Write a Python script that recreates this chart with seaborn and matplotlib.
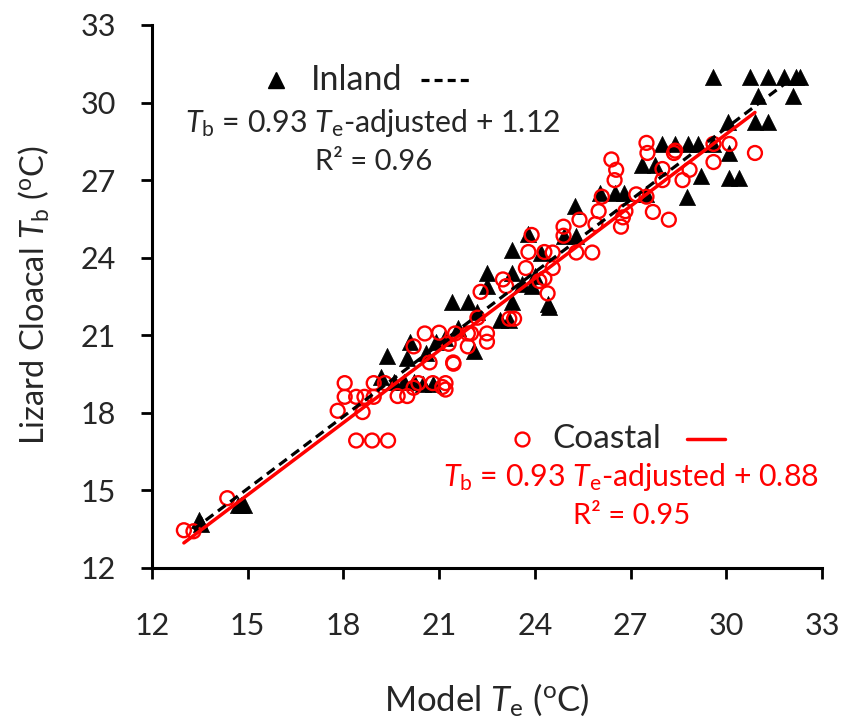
import numpy as np
import pandas as pd
import matplotlib
matplotlib.use('Agg')
import matplotlib.pyplot as plt
import seaborn as sns

# Точки: Inland (треугольники)
inland_te = [13.48, 13.55, 14.7, 14.8, 14.87, 19.37, 19.17, 19.6, 19.9, 20.2, 20.5, 20.8, 20.09, 20.0,
             20.6, 20.9, 21.2, 21.4, 21.9, 22.1, 22.5, 22.5, 22.9, 23.2, 23.27, 23.27, 23.3,
             23.8, 23.9, 24.2, 24.4, 24.45, 24.9, 25.27, 25.3, 26.05, 26.5, 26.8, 27.35, 27.5,
             27.77, 28.0, 28.4, 28.8, 29.1, 29.6, 28.78, 29.2, 29.6, 30.04, 30.1, 30.1, 30.4,
             30.75, 31.3, 31.8, 32.3, 31.0, 32.1, 32.2, 30.9, 31.3, 21.6, 22.2, 23.6, 24.0]
inland_tb = [13.85, 13.7, 14.44, 14.44, 14.44, 20.19, 19.37, 19.2, 19.2, 19.2, 19.1, 19.1, 20.75, 20.13,
             20.3, 20.75, 20.9, 22.27, 22.27, 20.4, 23.4, 22.9, 21.6, 21.6, 24.3, 23.4, 22.3,
             24.9, 22.9, 24.2, 22.2, 22.1, 24.85, 26.0, 24.85, 26.5, 26.5, 26.5, 27.6, 26.45,
             27.6, 28.4, 28.4, 28.4, 28.4, 28.4, 26.36, 27.16, 31.0, 29.26, 28.05, 27.07, 27.07,
             31.0, 31.0, 31.0, 31.0, 30.27, 30.27, 31.0, 29.26, 29.26, 21.3, 21.9, 23.0, 23.3]

# Точки: Coastal (кружки)
coastal_te = [13.0, 13.3, 14.36, 17.82, 18.04, 18.04, 18.4, 18.66, 18.6, 18.4, 18.9, 19.4,
              18.95, 18.95, 19.3, 19.7, 20.0, 20.2, 20.35, 20.8, 21.1, 21.2, 21.2, 20.2, 20.55,
              20.7, 21.0, 21.44, 21.3, 21.5, 21.9, 21.9, 22.0, 22.2, 22.5, 22.5, 22.3, 23.0,
              23.2, 23.35, 23.72, 23.8, 23.9, 24.14, 24.3, 24.4, 24.56, 24.56, 24.9, 24.9,
              25.3, 25.4, 25.8, 25.9, 26.0, 26.1, 26.4, 26.55, 26.5, 26.7, 26.76, 26.84,
              27.18, 27.5, 27.7, 27.5, 27.53, 28.0, 28.0, 28.2, 28.36, 28.4, 28.63, 28.85,
              29.6, 29.6, 30.1, 30.9, 21.45, 23.1, 24.3]
coastal_tb = [13.46, 13.42, 14.7, 18.08, 19.15, 18.62, 18.62, 18.62, 18.03, 16.93, 16.93, 16.93,
              19.15, 18.62, 19.15, 18.65, 18.65, 18.97, 19.15, 19.15, 19.0, 18.9, 19.15, 20.57, 21.07,
              19.95, 21.1, 19.95, 20.67, 21.07, 21.07, 20.57, 21.07, 21.68, 21.07, 20.75, 22.68, 23.16,
              21.64, 21.64, 23.6, 24.22, 24.88, 23.1, 24.22, 22.62, 23.6, 24.2, 25.2, 24.85,
              24.2, 25.47, 24.2, 25.3, 25.8, 26.36, 27.8, 27.4, 27.0, 25.2, 25.56, 25.8,
              26.45, 26.36, 25.77, 28.44, 28.05, 27.43, 27.0, 25.47, 28.05, 28.14, 27.0, 27.4,
              28.4, 27.7, 28.4, 28.05, 19.9, 22.9, 23.2]

# Линии регрессии
inland_slope, inland_icpt, inland_range = 0.93, 1.12, [13.3, 32.0]
coastal_slope, coastal_icpt, coastal_range = 0.93, 0.88, [13.0, 30.9]

inland = pd.DataFrame({'Te': inland_te, 'Tb': inland_tb})
coastal = pd.DataFrame({'Te': coastal_te, 'Tb': coastal_tb})

sns.set_style('ticks')
plt.rcParams['font.family'] = ['Lato', 'DejaVu Sans']
plt.rcParams['mathtext.fontset'] = 'custom'
plt.rcParams['mathtext.rm'] = 'Lato'
plt.rcParams['mathtext.it'] = 'Lato:italic'

fig = plt.figure(figsize=(8.42, 7.22), dpi=100)
ax = fig.add_axes([0.1805, 0.2133, 0.7957, 0.7521])

sns.scatterplot(data=inland, x='Te', y='Tb', marker='^', s=135, color='black',
                edgecolor='black', linewidth=0.5, ax=ax, zorder=2)
sns.scatterplot(data=coastal, x='Te', y='Tb', marker='o', s=100, facecolor='none',
                edgecolor='#ff0000', linewidth=1.7, ax=ax, zorder=3)

xi = np.array(inland_range)
xc = np.array(coastal_range)
ax.plot(xi, inland_slope * xi + inland_icpt, color='black', lw=2.3,
        linestyle=(0, (3, 1.8)), zorder=4)
ax.plot(xc, coastal_slope * xc + coastal_icpt, color='#ff0000', lw=2.5, zorder=5)

ax.set_xlim(12, 33)
ax.set_ylim(12, 33)
ax.set_xticks(range(12, 34, 3))
ax.set_yticks(range(12, 34, 3))
ax.tick_params(axis='x', length=8, width=2, labelsize=22, pad=24, color='black')
ax.tick_params(axis='y', length=8, width=2, labelsize=22, pad=18, color='black')
for sp in ['left', 'bottom']:
    ax.spines[sp].set_linewidth(2.2)
    ax.spines[sp].set_color('black')
sns.despine(ax=ax)

ax.set_xlabel(r'Model $\mathit{T}_\mathregular{e}$ ($^\mathregular{o}$C)', fontsize=25)
ax.set_ylabel(r'Lizard Cloacal $\mathit{T}_\mathregular{b}$ ($^\mathregular{o}$C)', fontsize=23.5)
ax.xaxis.set_label_coords(0.5, -0.243)
ax.xaxis.label.set_va('center')
ax.yaxis.set_label_coords(-0.175, 0.503)
ax.yaxis.label.set_va('center')

# Подписи-легенда
tr = ax.transAxes
ax.plot([0.185], [0.898], marker='^', ms=12, color='black', transform=tr, clip_on=False)
ax.text(0.237, 0.898, 'Inland', fontsize=24.5, va='center', ha='left', transform=tr)
ax.plot([0.402, 0.474], [0.898, 0.898], color='black', lw=2.3, linestyle=(0, (2.5, 1.6)),
        transform=tr)
ax.text(0.329, 0.819, r'$\mathit{T}_\mathregular{b}$ = 0.93 $\mathit{T}_\mathregular{e}$-adjusted + 1.12',
        fontsize=21.8, ha='center', va='center', transform=tr)
ax.text(0.331, 0.747, 'R² = 0.96', fontsize=21, ha='center', va='center', transform=tr)

ax.plot([0.553], [0.237], marker='o', ms=10, mfc='none', mec='#ff0000', mew=1.7,
        transform=tr, clip_on=False)
ax.text(0.598, 0.237, 'Coastal', fontsize=24, va='center', ha='left', transform=tr)
ax.plot([0.799, 0.855], [0.237, 0.237], color='#ff0000', lw=2.5, transform=tr)
ax.text(0.715, 0.167, r'$\mathit{T}_\mathregular{b}$ = 0.93 $\mathit{T}_\mathregular{e}$-adjusted + 0.88',
        fontsize=21.8, ha='center', va='center', color='#ff0000', transform=tr)
ax.text(0.716, 0.095, 'R² = 0.95', fontsize=21, ha='center', va='center', color='#ff0000',
        transform=tr)

fig.savefig('out.png', dpi=100)
